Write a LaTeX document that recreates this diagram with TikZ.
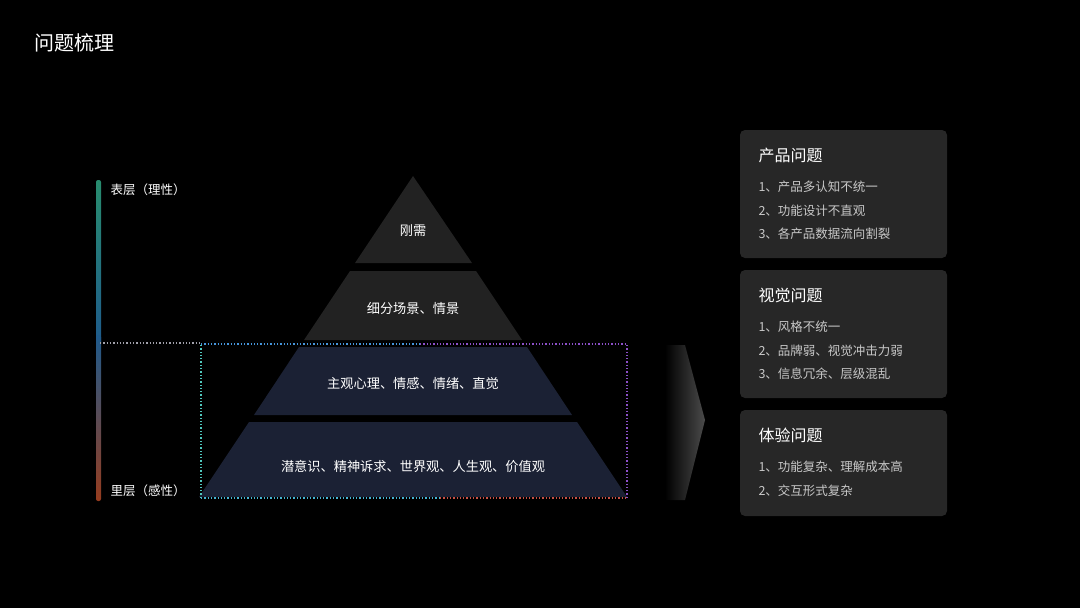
\documentclass[tikz,border=0pt]{standalone}
\usepackage{fontspec}
\setmainfont{Noto Sans CJK SC}
\usetikzlibrary{shadings}
\definecolor{tierA}{HTML}{222222}
\definecolor{tierB}{HTML}{1B2134}
\definecolor{card}{HTML}{272727}
\definecolor{itemc}{HTML}{C8C8C8}
\tikzset{px/.style={x=1pt,y=-1pt},
 tiertext/.style={text=white,font=\fontsize{13.2}{15}\selectfont},
 cardbox/.style={fill=card,rounded corners=5pt},
 cardtitle/.style={text=white,font=\fontsize{16}{19}\selectfont,anchor=west},
 carditem/.style={text=itemc,font=\fontsize{12.5}{15}\selectfont,anchor=west},
 sidelabel/.style={text=white,font=\fontsize{12.5}{14}\selectfont,anchor=west}}
\begin{document}
\begin{tikzpicture}[px]
\fill[black] (0,0) rectangle (1080,608);
\useasboundingbox (0,0) rectangle (1080,608);
\node[text=white,font=\fontsize{20}{24}\selectfont,anchor=west] (title) at (31,43) {问题梳理};
% left bar
\shade[top color={rgb,255:red,40;green,140;blue,110}, bottom color={rgb,255:red,30;green,90;blue,140},rounded corners=2pt] (96,180) rectangle (101,345);
\shade[top color={rgb,255:red,30;green,90;blue,140}, bottom color={rgb,255:red,150;green,60;blue,30},rounded corners=2pt] (96,335) rectangle (101,501);
\node[sidelabel] (top) at (107,190) {表层（理性）};
\node[sidelabel] (bot) at (107,491) {里层（感性）};
% pyramid
\fill[tierA] (413,176) -- (472,263) -- (355,263) -- cycle;
\fill[tierA] (350,271) -- (476,271) -- (522,340) -- (304,340) -- cycle;
\fill[tierB] (299,347) -- (527,347) -- (572,415) -- (254,415) -- cycle;
\fill[tierB] (249,422) -- (577,422) -- (627,497) -- (199,497) -- cycle;
\node[tiertext] (t1) at (413,231) {刚需};
\node[tiertext] (t2) at (413,308) {细分场景、情景};
\node[tiertext] (t3) at (413,383) {主观心理、情感、情绪、直觉};
\node[tiertext] (t4) at (413,466) {潜意识、精神诉求、世界观、人生观、价值观};
% dotted box
\draw[line width=1.3pt,dotted,color={rgb,255:red,160;green,160;blue,170}] (100,343) -- (201,343);
\draw[line width=1.3pt,dotted,color={rgb,255:red,80;green,200;blue,190}] (201,498) -- (201,344);
\draw[line width=1.3pt,dotted,color={rgb,255:red,70;green,150;blue,220}] (201,344) -- (420,344);
\draw[line width=1.3pt,dotted,color={rgb,255:red,140;green,80;blue,200}] (420,344) -- (627,344) -- (627,498);
\draw[line width=1.3pt,dotted,color={rgb,255:red,70;green,180;blue,210}] (201,498) -- (440,498);
\draw[line width=1.3pt,dotted,color={rgb,255:red,200;green,80;blue,70}] (440,498) -- (627,498);
% chevron
\shade[left color=black, right color={rgb,255:red,75;green,75;blue,75}] (665,345) -- (685,345) -- (705,420) -- (685,500) -- (665,500) -- cycle;
% cards
\fill[cardbox] (740,130) rectangle (947,258);
\node[cardtitle] (c1) at (755,155) {产品问题};
\node[carditem] at (755,187) {1、产品多认知不统一};
\node[carditem] at (755,211) {2、功能设计不直观};
\node[carditem] at (755,234) {3、各产品数据流向割裂};
\fill[cardbox] (740,270) rectangle (947,398);
\node[cardtitle] (c2) at (755,295) {视觉问题};
\node[carditem] at (755,327) {1、风格不统一};
\node[carditem] at (755,351) {2、品牌弱、视觉冲击力弱};
\node[carditem] at (755,374) {3、信息冗余、层级混乱};
\fill[cardbox] (740,410) rectangle (947,516);
\node[cardtitle] (c3) at (755,435) {体验问题};
\node[carditem] at (755,467) {1、功能复杂、理解成本高};
\node[carditem] at (755,491) {2、交互形式复杂};
\end{tikzpicture}
\end{document}
